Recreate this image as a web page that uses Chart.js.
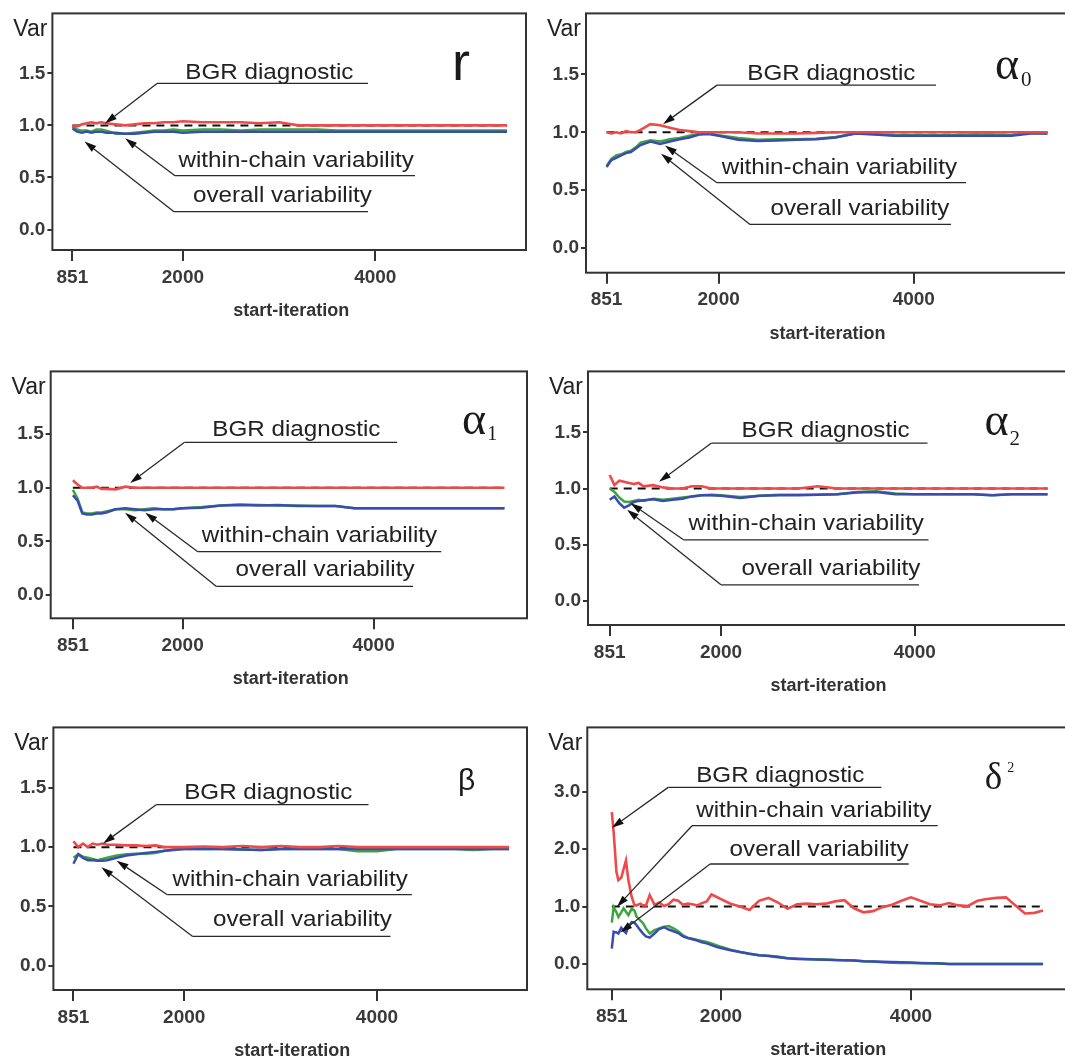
<!DOCTYPE html>
<html>
<head>
<meta charset="utf-8">
<script src="https://cdn.jsdelivr.net/npm/chart.js@4/dist/chart.umd.min.js"></script>
<style>
  html, body { margin: 0; padding: 0; background: #fff; overflow: hidden; }
  body { width: 1065px; height: 1061px; position: relative; }
  canvas { position: absolute; }
</style>
</head>
<body>
<canvas id="c1"></canvas>
<canvas id="c2"></canvas>
<canvas id="c3"></canvas>
<canvas id="c4"></canvas>
<canvas id="c5"></canvas>
<canvas id="c6"></canvas>
<script>
// start-iterations shared by the first five panels
var iterations = [851, 900, 950, 1000, 1050, 1100, 1150, 1200, 1300, 1400, 1500, 1600, 1700, 1800, 1900, 2000,
  2200, 2400, 2600, 2800, 3000, 3200, 3400, 3600, 3800, 4000, 4200, 4400, 4600, 4800, 5000, 5200, 5370];

// r
var rBGR = [1.00, 0.99, 1.01, 1.02, 1.03, 1.02, 1.03, 1.02, 1.01, 1.00, 1.01, 1.02, 1.02, 1.03, 1.03, 1.04,
  1.03, 1.03, 1.03, 1.02, 1.03, 1.00, 1.00, 1.00, 1.00, 1.00, 1.00, 1.00, 1.00, 1.00, 1.00, 1.00, 1.00];
var rWithin = [0.99, 0.96, 0.95, 0.95, 0.94, 0.96, 0.96, 0.95, 0.92, 0.92, 0.93, 0.94, 0.95, 0.95, 0.96, 0.95,
  0.96, 0.96, 0.95, 0.96, 0.96, 0.96, 0.96, 0.95, 0.95, 0.95, 0.95, 0.95, 0.95, 0.95, 0.95, 0.95, 0.95];
var rOverall = [0.97, 0.94, 0.93, 0.94, 0.93, 0.94, 0.94, 0.93, 0.93, 0.92, 0.92, 0.93, 0.94, 0.94, 0.94, 0.93,
  0.94, 0.94, 0.94, 0.94, 0.94, 0.94, 0.94, 0.94, 0.94, 0.94, 0.94, 0.94, 0.94, 0.94, 0.94, 0.94, 0.94];

// alpha0
var a0BGR = [1.00, 0.99, 1.00, 0.99, 1.01, 1.00, 1.00, 1.02, 1.07, 1.06, 1.04, 1.02, 1.01, 1.00, 1.00, 1.00,
  1.00, 0.99, 0.99, 0.99, 0.995, 1.00, 1.00, 1.00, 1.00, 1.00, 1.00, 1.00, 1.00, 1.00, 1.00, 1.00, 1.00];
var a0Within = [0.71, 0.77, 0.80, 0.81, 0.83, 0.84, 0.87, 0.91, 0.93, 0.92, 0.94, 0.95, 0.97, 0.985, 0.99, 0.975,
  0.95, 0.935, 0.94, 0.94, 0.945, 0.96, 0.99, 0.985, 0.975, 0.975, 0.975, 0.975, 0.98, 0.98, 0.975, 0.995, 0.99];
var a0Overall = [0.70, 0.76, 0.78, 0.80, 0.82, 0.83, 0.86, 0.89, 0.92, 0.90, 0.92, 0.94, 0.955, 0.98, 0.985, 0.97,
  0.935, 0.925, 0.93, 0.935, 0.94, 0.955, 0.99, 0.98, 0.97, 0.97, 0.97, 0.97, 0.97, 0.97, 0.97, 0.99, 0.99];

// alpha1
var a1BGR = [1.07, 1.03, 1.00, 1.00, 1.00, 1.01, 0.99, 0.99, 0.985, 1.01, 1.00, 1.00, 1.00, 1.00, 1.00, 1.00,
  1.00, 1.00, 1.00, 1.00, 1.00, 1.00, 1.00, 1.00, 1.00, 1.00, 1.00, 1.00, 1.00, 1.00, 1.00, 1.00, 1.00];
var a1Within = [0.98, 0.90, 0.77, 0.76, 0.76, 0.77, 0.77, 0.78, 0.80, 0.80, 0.79, 0.80, 0.81, 0.80, 0.80, 0.81,
  0.82, 0.835, 0.845, 0.84, 0.835, 0.835, 0.83, 0.83, 0.81, 0.81, 0.81, 0.81, 0.81, 0.81, 0.81, 0.81, 0.81];
var a1Overall = [0.93, 0.88, 0.76, 0.75, 0.75, 0.76, 0.76, 0.77, 0.80, 0.81, 0.80, 0.79, 0.80, 0.80, 0.80, 0.81,
  0.815, 0.835, 0.84, 0.835, 0.84, 0.83, 0.83, 0.83, 0.81, 0.81, 0.81, 0.81, 0.81, 0.81, 0.81, 0.81, 0.81];

// alpha2
var a2BGR = [1.12, 1.03, 1.07, 1.06, 1.05, 1.04, 1.05, 1.02, 1.03, 1.01, 1.00, 1.00, 1.02, 1.02, 1.00, 1.00,
  1.00, 1.00, 1.00, 1.00, 1.02, 1.00, 1.00, 1.00, 1.00, 1.00, 1.00, 1.00, 1.00, 1.00, 1.00, 1.00, 1.00];
var a2Within = [1.00, 0.97, 0.92, 0.885, 0.88, 0.89, 0.90, 0.89, 0.91, 0.90, 0.91, 0.92, 0.93, 0.94, 0.945, 0.94,
  0.925, 0.935, 0.945, 0.945, 0.945, 0.95, 0.97, 0.975, 0.955, 0.95, 0.95, 0.95, 0.95, 0.94, 0.95, 0.95, 0.95];
var a2Overall = [0.90, 0.93, 0.87, 0.83, 0.85, 0.88, 0.89, 0.895, 0.905, 0.89, 0.90, 0.91, 0.93, 0.94, 0.94, 0.935,
  0.915, 0.935, 0.94, 0.94, 0.945, 0.95, 0.965, 0.97, 0.95, 0.95, 0.95, 0.95, 0.95, 0.94, 0.95, 0.95, 0.95];

// beta
var bBGR = [1.05, 1.00, 1.03, 1.00, 1.03, 1.02, 1.03, 1.02, 1.02, 1.015, 1.015, 1.01, 1.015, 1.00, 1.00, 1.00,
  1.005, 1.00, 1.01, 1.00, 1.01, 1.00, 1.00, 1.01, 1.00, 1.00, 1.00, 1.00, 1.00, 1.00, 1.00, 1.00, 1.00];
var bWithin = [0.91, 0.94, 0.92, 0.91, 0.90, 0.89, 0.90, 0.91, 0.93, 0.94, 0.945, 0.945, 0.95, 0.97, 0.975, 0.985,
  0.985, 0.985, 0.98, 0.975, 0.985, 0.985, 0.985, 0.985, 0.965, 0.965, 0.985, 0.985, 0.985, 0.985, 0.975, 0.985, 0.985];
var bOverall = [0.86, 0.94, 0.91, 0.89, 0.89, 0.885, 0.885, 0.89, 0.91, 0.93, 0.94, 0.95, 0.96, 0.97, 0.98, 0.985,
  0.985, 0.985, 0.98, 0.975, 0.985, 0.985, 0.985, 0.985, 0.985, 0.985, 0.985, 0.985, 0.985, 0.985, 0.985, 0.985, 0.985];

// delta^2 has its own, finer set of start-iterations
var deltaIterations = [851, 870, 900, 920, 950, 975, 1000, 1025, 1060, 1090, 1110, 1150, 1180, 1210, 1250,
  1300, 1350, 1400, 1450, 1500, 1550, 1600, 1650, 1700, 1750, 1800, 1850, 1900, 1950, 2000,
  2100, 2200, 2300, 2400, 2500, 2600, 2700, 2800, 2900, 3000, 3100, 3200, 3300, 3400, 3500, 3600, 3700,
  3800, 3900, 4000, 4100, 4200, 4300, 4400, 4500, 4600, 4700, 4800, 4900, 5000, 5100, 5200, 5300, 5390];
var dBGR = [2.64, 2.30, 1.60, 1.46, 1.50, 1.65, 1.80, 1.46, 1.17, 1.02, 1.02, 1.05, 1.02, 1.02, 1.20,
  1.03, 1.07, 1.01, 1.04, 1.12, 1.10, 1.03, 1.05, 1.04, 1.02, 1.06, 1.09, 1.21, 1.17, 1.13,
  1.05, 1.00, 0.94, 1.10, 1.15, 1.07, 0.96, 1.04, 1.05, 1.04, 1.05, 1.09, 1.11, 0.97, 0.90, 0.92, 0.99,
  1.03, 1.10, 1.16, 1.10, 1.04, 1.02, 1.06, 1.02, 1.01, 1.10, 1.13, 1.15, 1.16, 1.02, 0.88, 0.89, 0.93];
var dWithin = [0.72, 0.99, 0.90, 0.82, 0.90, 0.97, 0.91, 0.85, 0.96, 0.93, 0.83, 0.76, 0.71, 0.62, 0.53,
  0.59, 0.62, 0.65, 0.66, 0.62, 0.57, 0.50, 0.46, 0.44, 0.42, 0.40, 0.385, 0.36, 0.33, 0.30,
  0.25, 0.21, 0.18, 0.155, 0.145, 0.13, 0.10, 0.095, 0.09, 0.085, 0.08, 0.07, 0.065, 0.06, 0.05, 0.045, 0.03,
  0.023, 0.02, 0.02, 0.015, 0.012, 0.012, 0.00, 0.00, 0.00, 0.00, 0.00, 0.00, 0.00, 0.00, 0.00, 0.00, 0.00];
var dOverall = [0.27, 0.56, 0.55, 0.53, 0.63, 0.58, 0.54, 0.65, 0.73, 0.72, 0.68, 0.59, 0.53, 0.48, 0.46,
  0.53, 0.61, 0.64, 0.60, 0.57, 0.54, 0.48, 0.45, 0.43, 0.41, 0.38, 0.36, 0.33, 0.30, 0.28,
  0.24, 0.21, 0.18, 0.155, 0.14, 0.12, 0.10, 0.09, 0.085, 0.08, 0.075, 0.07, 0.065, 0.06, 0.05, 0.045, 0.04,
  0.035, 0.03, 0.025, 0.02, 0.015, 0.01, 0.00, 0.00, 0.00, 0.00, 0.00, 0.00, 0.00, 0.00, 0.00, 0.00, 0.00];

var xTickValues = [851, 2000, 4000];
var varTicks = [0, 0.5, 1, 1.5];
var deltaTicks = [0, 1, 2, 3];
var referenceLevel = 1;

var noteTexts = ['BGR diagnostic', 'within-chain variability', 'overall variability'];

Chart.defaults.font.family = '"Liberation Sans", Arial, sans-serif';
Chart.defaults.animation = false;

var SANS = '"Liberation Sans", Arial, sans-serif';
var SERIF = '"Liberation Serif", "Times New Roman", serif';

// page box of every plot frame, label offsets inside it (px from frame top-left),
// arrow tips in data units
var panels = [
  { id: 'c1', canvas: [0, 0, 530, 358], box: [52.4, 10, 526, 250],
    x: [643, 5567], y: [-0.196, 2.075], yTicks: varTicks,
    iters: iterations, bgr: rBGR, within: rWithin, overall: rOverall,
    symbol: [{ t: 'r', font: '54px ' + SANS, dx: 399.6, dy: 67 }],
    notes: [
      { tx: 132.9, ty: 66, uy: 70, u1: 104.6, u2: 315.6, tip: [1190, 1.018] },
      { tx: 126.1, ty: 154, uy: 162.3, u1: 122.6, u2: 362.6, tip: [1399, 0.876] },
      { tx: 140.6, ty: 188.3, uy: 198.3, u1: 121.6, u2: 315.6, tip: [977, 0.845] }
    ] },
  { id: 'c2', canvas: [530, 0, 560, 358], box: [586, 9, 1080, 272.7],
    x: [640, 5704], y: [-0.212, 2.026], yTicks: varTicks,
    iters: iterations, bgr: a0BGR, within: a0Within, overall: a0Overall,
    symbol: [{ t: 'α', font: '46px ' + SERIF, dx: 409, dy: 66 },
             { t: '0', font: '21px ' + SERIF, dx: 435, dy: 73 }],
    notes: [
      { tx: 161.3, ty: 67, uy: 71.7, u1: 131, u2: 350, tip: [1429, 1.07] },
      { tx: 135.7, ty: 161, uy: 169.3, u1: 131, u2: 380, tip: [1450, 0.886] },
      { tx: 184.5, ty: 201.7, uy: 211, u1: 164, u2: 365, tip: [1409, 0.815] }
    ] },
  { id: 'c3', canvas: [0, 358, 530, 356], box: [50.7, 369, 527, 618.3],
    x: [619, 5606], y: [-0.215, 2.083], yTicks: varTicks,
    iters: iterations, bgr: a1BGR, within: a1Within, overall: a1Overall,
    symbol: [{ t: 'α', font: '46px ' + SERIF, dx: 411.3, dy: 63 },
             { t: '1', font: '20px ' + SERIF, dx: 436.5, dy: 69 }],
    notes: [
      { tx: 161.6, ty: 65, uy: 71, u1: 133.5, u2: 346.5, tip: [1451, 1.044] },
      { tx: 151.1, ty: 171, uy: 180.3, u1: 147.1, u2: 390.5, tip: [1610, 0.768] },
      { tx: 184.9, ty: 204.3, uy: 215, u1: 165.7, u2: 362.4, tip: [1398, 0.768] }
    ] },
  { id: 'c4', canvas: [530, 358, 560, 356], box: [588, 368.3, 1080, 625],
    x: [627, 5705], y: [-0.214, 2.042], yTicks: varTicks,
    iters: iterations, bgr: a2BGR, within: a2Within, overall: a2Overall,
    symbol: [{ t: 'α', font: '46px ' + SERIF, dx: 396.5, dy: 63.7 },
             { t: '2', font: '21px ' + SERIF, dx: 421.5, dy: 73.7 }],
    notes: [
      { tx: 153.5, ty: 65.7, uy: 71.7, u1: 123.5, u2: 339.5, tip: [1360, 1.06] },
      { tx: 100.6, ty: 158.4, uy: 168.4, u1: 95.5, u2: 340.5, tip: [1067, 0.87] },
      { tx: 153.5, ty: 203.4, uy: 213.4, u1: 133, u2: 331, tip: [1030, 0.812] }
    ] },
  { id: 'c5', canvas: [0, 714, 530, 347], box: [53.4, 726, 527, 990],
    x: [643, 5556], y: [-0.204, 2.009], yTicks: varTicks,
    iters: iterations, bgr: bBGR, within: bWithin, overall: bOverall,
    symbol: [{ t: 'β', font: '30px ' + SANS, dx: 404.6, dy: 63 }],
    notes: [
      { tx: 130.8, ty: 71.3, uy: 77.3, u1: 102.8, u2: 315.1, tip: [1159, 1.031] },
      { tx: 119, ty: 159, uy: 167.3, u1: 113.9, u2: 358.4, tip: [1299, 0.886] },
      { tx: 159.6, ty: 199, uy: 209, u1: 139.3, u2: 337.1, tip: [1141, 0.83] }
    ] },
  { id: 'c6', canvas: [530, 714, 560, 347], box: [587.3, 726.7, 1080, 989.3],
    x: [593, 5779], y: [-0.439, 4.115], yTicks: deltaTicks,
    iters: deltaIterations, bgr: dBGR, within: dWithin, overall: dOverall,
    symbol: [{ t: 'δ', font: '37px ' + SERIF, dx: 397.5, dy: 62 },
             { t: '2', font: '14px ' + SERIF, dx: 420, dy: 45 }],
    notes: [
      { tx: 108.9, ty: 55, uy: 60, u1: 80.9, u2: 294.1, tip: [852, 2.37] },
      { tx: 108.9, ty: 90, uy: 98.3, u1: 104.7, u2: 350.4, tip: [905, 0.994] },
      { tx: 142.3, ty: 128.3, uy: 136.6, u1: 122.8, u2: 321.4, tip: [941, 0.55] }
    ] }
];

function toPoints(iters, vals) {
  return iters.map(function (x, i) { return { x: x, y: vals[i] }; });
}

// text stretched horizontally
function wideText(ctx, str, x, y, sx) {
  ctx.save();
  ctx.translate(x, y);
  ctx.scale(sx, 1);
  ctx.fillText(str, 0, 0);
  ctx.restore();
}

function arrow(ctx, x1, y1, x2, y2) {
  var ang = Math.atan2(y2 - y1, x2 - x1);
  var len = 12, half = 3.6;
  var bx = x2 - len * Math.cos(ang), by = y2 - len * Math.sin(ang);
  ctx.beginPath();
  ctx.moveTo(x1, y1);
  ctx.lineTo(bx, by);
  ctx.stroke();
  ctx.beginPath();
  ctx.moveTo(x2, y2);
  ctx.lineTo(bx + half * Math.sin(ang), by - half * Math.cos(ang));
  ctx.lineTo(bx - half * Math.sin(ang), by + half * Math.cos(ang));
  ctx.closePath();
  ctx.fill();
}

function decorPlugin(p) {
  return {
    id: 'decor' + p.id,
    afterDraw: function (chart) {
      var ctx = chart.ctx, a = chart.chartArea;
      var sx = chart.scales.x, sy = chart.scales.y;
      ctx.save();

      // frame
      ctx.strokeStyle = '#333';
      ctx.lineWidth = 2;
      ctx.strokeRect(a.left, a.top, a.right - a.left, a.bottom - a.top);

      // "Var" at the top-left corner
      ctx.fillStyle = '#222';
      ctx.font = '23px ' + SANS;
      ctx.textAlign = 'right';
      ctx.textBaseline = 'middle';
      ctx.fillText('Var', a.left - 5, a.top + 16);

      // x title
      ctx.fillStyle = '#333';
      ctx.font = 'bold 18px ' + SANS;
      ctx.textAlign = 'center';
      ctx.fillText('start-iteration', (a.left + Math.min(a.right, 1065 - p.canvas[0])) / 2 + 2, a.bottom + 61);

      // parameter symbol
      ctx.fillStyle = '#1a1a1a';
      ctx.textAlign = 'left';
      ctx.textBaseline = 'alphabetic';
      p.symbol.forEach(function (s) {
        ctx.font = s.font;
        ctx.fillText(s.t, a.left + s.dx, a.top + s.dy);
      });

      // labelled arrows
      ctx.font = '22px ' + SANS;
      ctx.strokeStyle = '#2a2a2a';
      ctx.lineWidth = 1.3;
      p.notes.forEach(function (n, i) {
        ctx.fillStyle = '#222';
        wideText(ctx, noteTexts[i], a.left + n.tx, a.top + n.ty, 1.1);
        ctx.beginPath();
        ctx.moveTo(a.left + n.u1, a.top + n.uy);
        ctx.lineTo(a.left + n.u2, a.top + n.uy);
        ctx.stroke();
        ctx.fillStyle = '#111';
        arrow(ctx, a.left + n.u1, a.top + n.uy,
          sx.getPixelForValue(n.tip[0]), sy.getPixelForValue(n.tip[1]));
      });
      ctx.restore();
    }
  };
}

panels.forEach(function (p) {
  var el = document.getElementById(p.id);
  var cx = p.canvas[0], cy = p.canvas[1], cw = p.canvas[2], ch = p.canvas[3];
  el.width = cw;
  el.height = ch;
  el.style.left = cx + 'px';
  el.style.top = cy + 'px';
  el.style.width = cw + 'px';
  el.style.height = ch + 'px';

  var yAxisWidth = p.box[0] - cx;
  var xAxisHeight = cy + ch - p.box[3];
  var first = p.iters[0], last = p.iters[p.iters.length - 1];

  new Chart(el, {
    type: 'line',
    data: {
      datasets: [
        { data: toPoints(p.iters, p.bgr), borderColor: '#ee4a4a', borderWidth: 2.6, order: 0 },
        { data: toPoints(p.iters, p.overall), borderColor: '#3a4cb2', borderWidth: 2.5, order: 1 },
        { data: toPoints(p.iters, p.within), borderColor: '#3ea43e', borderWidth: 2.5, order: 2 },
        { data: [{ x: first, y: referenceLevel }, { x: last, y: referenceLevel }],
          borderColor: '#111', borderWidth: 2, borderDash: [8, 6], order: 3 }
      ]
    },
    options: {
      responsive: false,
      animation: false,
      elements: { point: { radius: 0 }, line: { tension: 0 } },
      plugins: { legend: { display: false }, tooltip: { enabled: false } },
      layout: { padding: { left: 0, top: p.box[1] - cy, right: cx + cw - p.box[2], bottom: 0 } },
      scales: {
        x: {
          type: 'linear', min: p.x[0], max: p.x[1],
          afterBuildTicks: function (s) { s.ticks = xTickValues.map(function (v) { return { value: v }; }); },
          afterFit: function (s) { s.height = xAxisHeight; },
          grid: { drawOnChartArea: false, drawTicks: true, tickLength: 11, color: '#333', lineWidth: 2 },
          border: { display: false },
          ticks: { color: '#3a3a3a', font: { size: 19, weight: 'bold' }, padding: 5, maxRotation: 0,
            callback: function (v) { return String(v); } }
        },
        y: {
          min: p.y[0], max: p.y[1],
          afterBuildTicks: function (s) { s.ticks = p.yTicks.map(function (v) { return { value: v }; }); },
          afterFit: function (s) { s.width = yAxisWidth; },
          grid: { drawOnChartArea: false, drawTicks: true, tickLength: 5, color: '#333', lineWidth: 2 },
          border: { display: false },
          ticks: { color: '#3a3a3a', font: { size: 19, weight: 'bold' }, padding: 2,
            callback: function (v) { return Number(v).toFixed(1); } }
        }
      }
    },
    plugins: [decorPlugin(p)]
  });
});
</script>
</body>
</html>
